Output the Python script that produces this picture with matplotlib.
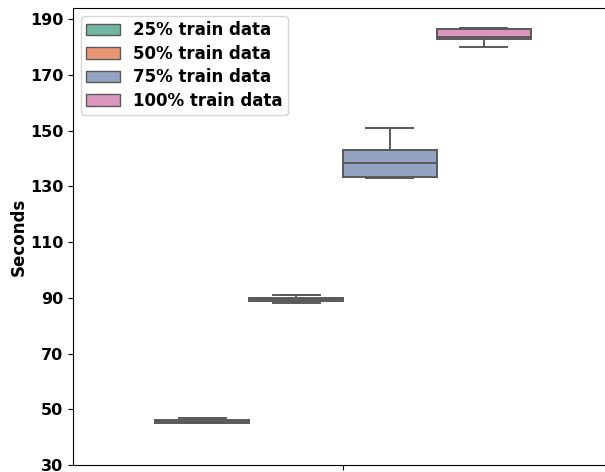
import matplotlib
matplotlib.use("Agg")
import matplotlib.pyplot as plt
from matplotlib.patches import Patch
import seaborn as sns

# Training time per run (seconds), summarised as box statistics per data fraction
labels = ["25% train data", "50% train data", "75% train data", "100% train data"]
whisker_low = [45.0, 88.0, 133.0, 180.0]
quartile_1 = [45.0, 89.0, 133.5, 183.0]
medians = [45.5, 89.5, 138.5, 183.5]
quartile_3 = [46.0, 90.0, 143.0, 186.5]
whisker_high = [47.0, 91.0, 151.0, 187.0]

yticks = [30, 50, 70, 90, 110, 130, 150, 170, 190]

palette = [sns.desaturate(c, 0.75) for c in sns.color_palette("Set2", 4)]
edge = "#5a5a5a"
lw = 1.4

fig = plt.figure(figsize=(6.05, 4.72), dpi=100)
ax = fig.add_axes([73 / 605, 1 - 465 / 472, 540 / 605, 457 / 472])

n = len(labels)
width = 0.8 / n
positions = [-0.4 + width * (i + 0.5) for i in range(n)]

stats = []
for i in range(n):
    stats.append(dict(label=labels[i], whislo=whisker_low[i], q1=quartile_1[i],
                      med=medians[i], q3=quartile_3[i], whishi=whisker_high[i],
                      fliers=[]))

bp = ax.bxp(stats, positions=positions, widths=width, patch_artist=True,
            showfliers=False, manage_ticks=False,
            boxprops=dict(edgecolor=edge, linewidth=lw),
            medianprops=dict(color=edge, linewidth=lw),
            whiskerprops=dict(color=edge, linewidth=lw),
            capprops=dict(color=edge, linewidth=lw))
for box, col in zip(bp["boxes"], palette):
    box.set_facecolor(col)

ax.set_xlim(-0.5745, 0.5745)
ax.set_ylim(30, 194)
ax.set_yticks(yticks)
ax.set_yticklabels([str(t) for t in yticks], fontweight="bold", fontsize=11.5)
ax.set_xticks([0])
ax.set_xticklabels([""])
ax.set_ylabel("Seconds", fontweight="bold", fontsize=12, labelpad=1.5)

handles = [Patch(facecolor=c, edgecolor=edge, linewidth=1.0, label=l)
           for c, l in zip(palette, labels)]
ax.legend(handles=handles, loc="upper left", prop=dict(weight="bold", size=12),
          handlelength=2.0, borderaxespad=0.5, labelspacing=0.33, borderpad=0.3)

fig.savefig("out.png", dpi=100)
